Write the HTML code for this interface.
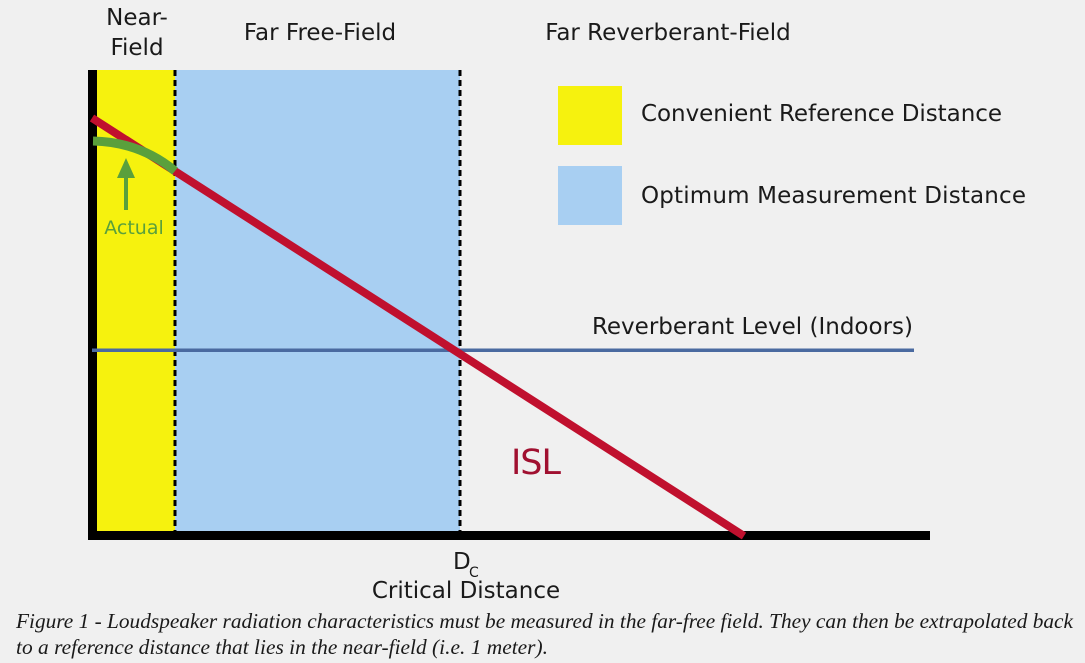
<!DOCTYPE html>
<html><head><meta charset="utf-8"><style>
html,body{margin:0;padding:0;background:#f0f0f0;}
svg{display:block}
</style></head><body>
<svg width="1085" height="663" viewBox="0 0 1085 663" xmlns="http://www.w3.org/2000/svg" font-family="'DejaVu Sans', 'Liberation Sans', sans-serif">
<rect width="1085" height="663" fill="#f0f0f0"/>
<rect x="97" y="70" width="78" height="462" fill="#f6f20e"/>
<rect x="175" y="70" width="285" height="462" fill="#a8cff2"/>
<line x1="175" y1="70" x2="175" y2="531" stroke="#000" stroke-width="3" stroke-dasharray="6,4"/>
<line x1="460" y1="70" x2="460" y2="531" stroke="#000" stroke-width="3" stroke-dasharray="6,4"/>
<rect x="88" y="70" width="9" height="470" fill="#000"/>
<rect x="88" y="531" width="842" height="9" fill="#000"/>
<rect x="92" y="348.5" width="822" height="3.5" fill="#4a6aa0"/>
<line x1="92" y1="118" x2="744" y2="536" stroke="#c0102e" stroke-width="8"/>
<path d="M93 141 Q140 142 175 171" fill="none" stroke="#5aa03c" stroke-width="9"/>
<line x1="126" y1="210" x2="126" y2="172" stroke="#5aa03c" stroke-width="4"/>
<polygon points="126,158 117,178 135,178" fill="#5aa03c"/>
<text x="134" y="234" font-size="19" fill="#5aa03c" text-anchor="middle">Actual</text>
<rect x="558" y="86" width="64" height="59" fill="#f6f20e"/>
<rect x="558" y="166" width="64" height="59" fill="#a8cff2"/>
<g font-size="23" fill="#1a1a1a">
<text x="641" y="121" textLength="361">Convenient Reference Distance</text>
<text x="641" y="203" textLength="385">Optimum Measurement Distance</text>
<text x="913" y="334" text-anchor="end">Reverberant Level (Indoors)</text>
<text x="137" y="25" text-anchor="middle">Near-</text>
<text x="137" y="55" text-anchor="middle">Field</text>
<text x="320" y="40" text-anchor="middle">Far Free-Field</text>
<text x="668" y="40" text-anchor="middle">Far Reverberant-Field</text>
<text x="453" y="569">D</text>
<text x="469" y="577" font-size="14">C</text>
<text x="466" y="598" text-anchor="middle">Critical Distance</text>
</g>
<text x="511" y="474" font-size="35" fill="#a01030" textLength="50">ISL</text>
<g font-family="'Liberation Serif', serif" font-style="italic" font-size="21" fill="#1a1a1a">
<text x="16" y="628" textLength="1057" lengthAdjust="spacingAndGlyphs">Figure 1 - Loudspeaker radiation characteristics must be measured in the far-free field. They can then be extrapolated back</text>
<text x="16" y="654" textLength="532" lengthAdjust="spacingAndGlyphs">to a reference distance that lies in the near-field (i.e. 1 meter).</text>
</g>
</svg>
</body></html>
